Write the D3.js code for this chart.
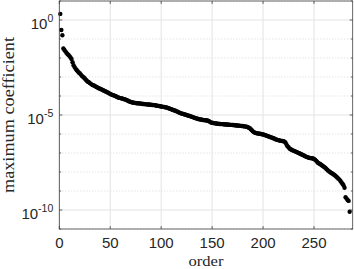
<!DOCTYPE html>
<html>
<head>
<meta charset="utf-8">
<script src="https://cdn.jsdelivr.net/npm/d3@7"></script>
<style>
  body { margin: 0; background: #fff; }
</style>
</head>
<body>
<div id="chart"></div>
<script>
// log10 of the maximum coefficient, one per order (1..285)
var coefExponent = [
  0.32, -0.53, -0.80, -1.50, -1.58, -1.65, -1.72, -1.79, -1.84, -1.90,
  -1.97, -2.05, -2.22, -2.38, -2.48, -2.56, -2.63, -2.70, -2.76, -2.80,
  -2.86, -2.93, -2.98, -3.03, -3.08, -3.14, -3.20, -3.25, -3.28, -3.32,
  -3.36, -3.40, -3.43, -3.45, -3.48, -3.51, -3.54, -3.57, -3.60, -3.62,
  -3.64, -3.67, -3.70, -3.72, -3.75, -3.77, -3.80, -3.83, -3.86, -3.89,
  -3.92, -3.94, -3.96, -3.98, -4.00, -4.03, -4.06, -4.08, -4.10, -4.11,
  -4.12, -4.14, -4.16, -4.17, -4.19, -4.21, -4.24, -4.27, -4.29, -4.31,
  -4.33, -4.34, -4.35, -4.36, -4.37, -4.38, -4.38, -4.39, -4.39, -4.40,
  -4.41, -4.42, -4.42, -4.43, -4.44, -4.44, -4.45, -4.45, -4.46, -4.46,
  -4.47, -4.47, -4.48, -4.49, -4.50, -4.51, -4.52, -4.53, -4.54, -4.55,
  -4.56, -4.57, -4.58, -4.59, -4.60, -4.62, -4.64, -4.66, -4.68, -4.70,
  -4.72, -4.74, -4.76, -4.78, -4.80, -4.82, -4.85, -4.88, -4.90, -4.92,
  -4.94, -4.95, -4.97, -4.98, -5.00, -5.02, -5.04, -5.05, -5.07, -5.09,
  -5.11, -5.13, -5.15, -5.17, -5.19, -5.20, -5.22, -5.23, -5.24, -5.25,
  -5.26, -5.27, -5.28, -5.28, -5.29, -5.30, -5.33, -5.36, -5.40, -5.41,
  -5.42, -5.43, -5.44, -5.45, -5.46, -5.46, -5.47, -5.47, -5.48, -5.48,
  -5.49, -5.49, -5.50, -5.50, -5.50, -5.51, -5.51, -5.52, -5.52, -5.53,
  -5.53, -5.54, -5.54, -5.55, -5.55, -5.56, -5.56, -5.57, -5.58, -5.58,
  -5.59, -5.60, -5.61, -5.62, -5.64, -5.67, -5.70, -5.75, -5.80, -5.86,
  -5.90, -5.93, -5.95, -5.96, -5.97, -5.98, -5.99, -6.00, -6.01, -6.02,
  -6.04, -6.06, -6.08, -6.10, -6.12, -6.14, -6.16, -6.18, -6.20, -6.22,
  -6.24, -6.27, -6.29, -6.31, -6.32, -6.34, -6.35, -6.36, -6.37, -6.38,
  -6.40, -6.45, -6.55, -6.64, -6.70, -6.76, -6.80, -6.83, -6.86, -6.88,
  -6.90, -6.93, -6.95, -6.98, -7.00, -7.03, -7.05, -7.08, -7.10, -7.13,
  -7.16, -7.19, -7.21, -7.23, -7.25, -7.26, -7.27, -7.28, -7.29, -7.31,
  -7.35, -7.40, -7.46, -7.52, -7.55, -7.58, -7.62, -7.66, -7.70, -7.74,
  -7.78, -7.83, -7.88, -7.93, -7.97, -8.01, -8.05, -8.08, -8.12, -8.16,
  -8.20, -8.25, -8.30, -8.35, -8.40, -8.47, -8.55, -8.62, -8.70, -8.83,
  -9.33, -9.40, -9.47, -9.52, -10.09
];

var xTicks = [0, 50, 100, 150, 200, 250];
var yMajorExp = [0, -5, -10];
var yDecadeExp = [1, 0, -1, -2, -3, -4, -5, -6, -7, -8, -9, -10, -11];

var data = coefExponent.map(function(e, i) {
    return { order: i + 1, value: Math.pow(10, e) };
});

var margin = {top: 1, right: 1.3, bottom: 40, left: 59.3},
    width = 354 - margin.left - margin.right,
    height = 269 - margin.top - margin.bottom;

var svg = d3.select("#chart")
    .append("svg")
        .attr("width", 354)
        .attr("height", 269)
    .append("g")
        .attr("transform", "translate(" + margin.left + "," + margin.top + ")");

var x = d3.scaleLinear()
    .domain([0, 288])
    .range([0, width]);

var y = d3.scaleLog()
    .domain([1e-11, 1e1])
    .range([height, 0]);

var gridCol = "#e3e3e3";

// minor (every decade) dotted grid
svg.selectAll(".minor-grid")
    .data(yDecadeExp.filter(e => yMajorExp.indexOf(e) < 0))
    .enter()
    .append("line")
    .attr("x1", 0).attr("x2", width)
    .attr("y1", d => y(Math.pow(10, d)))
    .attr("y2", d => y(Math.pow(10, d)))
    .attr("stroke", "#cfcfcf")
    .attr("stroke-width", 0.8)
    .attr("stroke-dasharray", "1,2");

// major grid
svg.selectAll(".major-grid")
    .data(yMajorExp)
    .enter()
    .append("line")
    .attr("x1", 0).attr("x2", width)
    .attr("y1", d => y(Math.pow(10, d)))
    .attr("y2", d => y(Math.pow(10, d)))
    .attr("stroke", gridCol)
    .attr("stroke-width", 1);

svg.selectAll(".xgrid")
    .data(xTicks)
    .enter()
    .append("line")
    .attr("x1", d => x(d)).attr("x2", d => x(d))
    .attr("y1", 0).attr("y2", height)
    .attr("stroke", gridCol)
    .attr("stroke-width", 1);

// points
svg.selectAll(".pt")
    .data(data)
    .enter()
    .append("circle")
    .attr("cx", d => x(d.order))
    .attr("cy", d => y(d.value))
    .attr("r", 2.2)
    .attr("fill", "#000");

// axes box
var axisCol = "#404040";
svg.append("rect")
    .attr("width", width).attr("height", height)
    .attr("fill", "none")
    .attr("stroke", axisCol)
    .attr("stroke-width", 0.8);

// x ticks (inward, top and bottom)
xTicks.forEach(function(t) {
    svg.append("line").attr("x1", x(t)).attr("x2", x(t))
        .attr("y1", height).attr("y2", height - 3).attr("stroke", axisCol).attr("stroke-width", 0.8);
    svg.append("line").attr("x1", x(t)).attr("x2", x(t))
        .attr("y1", 0).attr("y2", 3).attr("stroke", axisCol).attr("stroke-width", 0.8);
});

// y ticks (major longer, minor shorter), both sides
yDecadeExp.forEach(function(e) {
    var len = yMajorExp.indexOf(e) >= 0 ? 3 : 1.8;
    var yy = y(Math.pow(10, e));
    svg.append("line").attr("x1", 0).attr("x2", len)
        .attr("y1", yy).attr("y2", yy).attr("stroke", axisCol).attr("stroke-width", 0.8);
    svg.append("line").attr("x1", width).attr("x2", width - len)
        .attr("y1", yy).attr("y2", yy).attr("stroke", axisCol).attr("stroke-width", 0.8);
});

// x tick labels
svg.selectAll(".xlab")
    .data(xTicks)
    .enter()
    .append("text")
    .attr("x", d => x(d))
    .attr("y", height + 19)
    .attr("text-anchor", "middle")
    .style("font-family", "'Liberation Sans', Arial, sans-serif")
    .style("font-size", "15px")
    .style("fill", "#262626")
    .text(d => d);

// y tick labels 10^e
var ylab = svg.selectAll(".ylab")
    .data(yMajorExp)
    .enter()
    .append("text")
    .attr("x", -6)
    .attr("y", d => y(Math.pow(10, d)) + 9)
    .attr("text-anchor", "end")
    .style("font-family", "'Liberation Sans', Arial, sans-serif")
    .style("fill", "#262626");
ylab.append("tspan").style("font-size", "15px").text("10");
ylab.append("tspan").attr("dy", -7.5).style("font-size", "10.5px").text(d => d);

// axis titles
svg.append("text")
    .attr("x", width / 2)
    .attr("y", height + 36.5)
    .attr("text-anchor", "middle")
    .attr("textLength", 35)
    .attr("lengthAdjust", "spacingAndGlyphs")
    .style("font-family", "'Liberation Serif', 'DejaVu Serif', serif")
    .style("font-size", "15.5px")
    .style("fill", "#262626")
    .text("order");

svg.append("text")
    .attr("transform", "translate(" + (-45) + "," + (height / 2) + ") rotate(-90)")
    .attr("text-anchor", "middle")
    .attr("textLength", 156)
    .attr("lengthAdjust", "spacingAndGlyphs")
    .style("font-family", "'Liberation Serif', 'DejaVu Serif', serif")
    .style("font-size", "16px")
    .style("fill", "#262626")
    .text("maximum coefficient");
</script>
</body>
</html>
